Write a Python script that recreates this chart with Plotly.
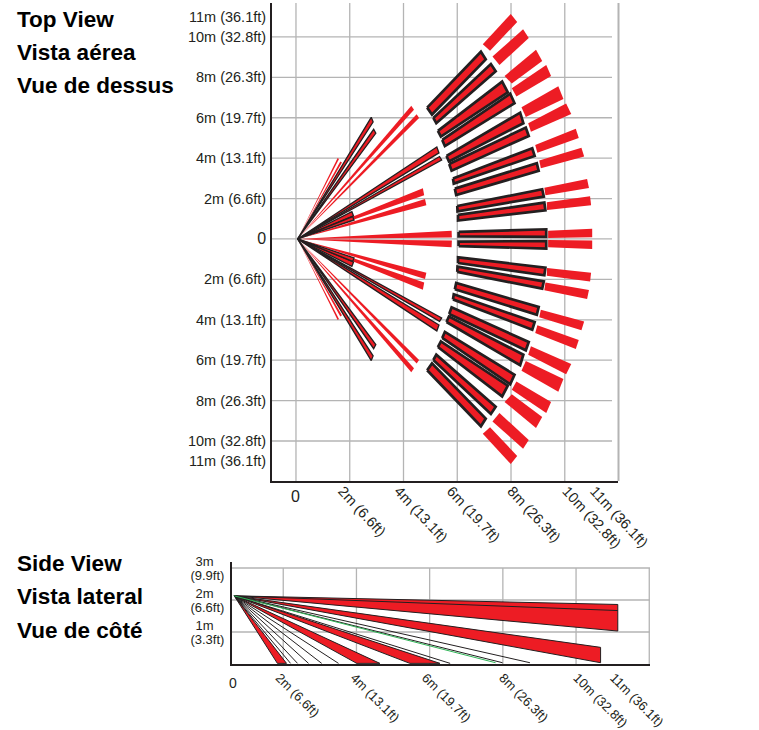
import plotly.graph_objects as go

W, H = 759, 730
RED, BLACK, GRID, GREEN = "#ed1c24", "#231f20", "#b4b4b4", "#2fb457"
FONT = "Liberation Sans, Arial, sans-serif"

# ---------- top view (metres, upper half; lower half is the mirror image) ----------
outer_x = [[6.95, 7.99, 8.23, 7.22], [7.31, 8.45, 8.66, 7.57], [7.76, 8.93, 9.16, 8.03],
           [8.03, 9.31, 9.49, 8.20], [8.39, 9.76, 9.95, 8.55], [8.64, 10.05, 10.24, 8.74],
           [8.90, 10.41, 10.52, 8.98], [9.05, 10.62, 10.72, 9.11], [9.24, 10.83, 10.90, 9.28],
           [9.33, 10.94, 10.98, 9.34], [9.38, 11.02, 11.02, 9.38]]
outer_y = [[9.64, 11.14, 10.74, 9.32], [9.03, 10.38, 9.95, 8.61], [8.07, 9.36, 8.81, 7.69],
           [7.46, 8.61, 8.07, 7.05], [6.52, 7.56, 6.93, 6.04], [5.73, 6.70, 6.19, 5.31],
           [4.65, 5.45, 5.00, 4.27], [3.88, 4.52, 4.08, 3.50], [2.54, 2.97, 2.52, 2.16],
           [1.82, 2.11, 1.67, 1.44], [0.41, 0.50, 0.08, 0.05]]
middle_x = [[4.88, 6.88, 7.06, 5.06], [5.11, 7.25, 7.43, 5.22], [5.28, 7.67, 7.88, 5.39],
            [5.44, 7.97, 8.13, 5.54], [5.60, 8.34, 8.46, 5.69], [5.70, 8.55, 8.66, 5.79],
            [5.84, 8.79, 8.88, 5.87], [5.91, 8.96, 9.03, 5.96], [6.00, 9.16, 9.22, 6.01],
            [6.03, 9.24, 9.28, 6.03], [6.05, 9.31, 9.31, 6.05]]
middle_y = [[6.50, 9.27, 8.89, 6.16], [5.99, 8.66, 8.30, 5.73], [5.35, 7.79, 7.26, 5.07],
            [4.90, 7.19, 6.72, 4.60], [4.11, 6.25, 5.73, 3.84], [3.71, 5.51, 5.10, 3.38],
            [2.99, 4.49, 4.11, 2.74], [2.49, 3.75, 3.37, 2.18], [1.63, 2.46, 2.10, 1.37],
            [1.19, 1.80, 1.42, 0.91], [0.35, 0.48, 0.10, 0.13]]
apex_x, apex_y = 0.06, 0.0
near_red_x = [[1.55, 1.60], [1.65, 1.71], [4.29, 4.39], [4.49, 4.58],
              [4.72, 4.77], [4.80, 4.85], [5.79, 5.80]]
near_red_y = [[4.01, 3.96], [3.84, 3.78], [6.60, 6.40], [6.17, 5.99],
              [2.51, 2.16], [1.98, 1.67], [0.41, 0.07]]
near_black_x = [[2.80, 2.87], [2.89, 2.97], [5.24, 5.32], [5.34, 5.42], [2.08, 2.14], [2.11, 2.16]]
near_black_y = [[6.02, 5.79], [5.43, 5.23], [4.55, 4.26], [4.08, 3.91], [1.35, 1.14], [1.11, 0.94]]

top_grid_x = [0, 2, 4, 6, 8, 10]
top_grid_y = [-10, -8, -6, -4, -2, 0, 2, 4, 6, 8, 10]
top_x_vals = [2.1, 4.2, 6.15, 8.4, 10.45, 11.48]
top_x_text = ["2m (6.6ft)", "4m (13.1ft)", "6m (19.7ft)", "8m (26.3ft)", "10m (32.8ft)", "11m (36.1ft)"]
top_y_vals = [-11, -10, -8, -6, -4, -2, 0, 2, 4, 6, 8, 10, 11]
top_y_text = ["11m (36.1ft)", "10m (32.8ft)", "8m (26.3ft)", "6m (19.7ft)", "4m (13.1ft)", "2m (6.6ft)",
              "<span style='font-size:16px'>0</span>",
              "2m (6.6ft)", "4m (13.1ft)", "6m (19.7ft)", "8m (26.3ft)", "10m (32.8ft)", "11m (36.1ft)"]

# ---------- side view ----------
side_apex_x, side_apex_y = 0.66, 2.13
side_red_x = [[11.14, 11.14], [10.67, 10.67], [6.28, 5.46], [4.64, 4.01], [2.09, 1.84]]
side_red_y = [[1.86, 1.03], [0.52, 0.04], [0.02, 0.02], [0.02, 0.02], [0.02, 0.02]]
side_line_x = [11.14, 8.74, 7.99, 6.56, 3.51, 3.05, 2.69, 2.39, 2.20]
side_line_y = [1.67, 0.04, 0.04, 0.02, 0.02, 0.02, 0.02, 0.02, 0.02]
side_green_x, side_green_y = 7.80, 0.04
side_grid_x = [2, 4, 6, 8, 10, 12]
side_grid_y = [1, 2, 3]
side_x_vals = [2.11, 4.16, 6.11, 8.22, 10.25, 11.25]
side_y_vals = [0.78, 1.2, 1.78, 2.2, 2.78, 3.2]
side_y_text = ["(3.3ft)", "1m&nbsp;&nbsp;&nbsp;", "(6.6ft)", "2m&nbsp;&nbsp;&nbsp;", "(9.9ft)", "3m&nbsp;&nbsp;&nbsp;"]

top_titles = ["Top View", "Vista aérea", "Vue de dessus"]
top_title_px = [19.5, 52.5, 85.5]
side_titles = ["Side View", "Vista lateral", "Vue de côté"]
side_title_px = [563.5, 596.5, 630]

fig = go.Figure()


def poly(xs, ys, fill, line=None, width=0, xa="x", ya="y"):
    fig.add_trace(go.Scatter(
        x=list(xs) + [xs[0]], y=list(ys) + [ys[0]], mode="lines", fill="toself", fillcolor=fill,
        line=dict(color=line or fill, width=width), hoverinfo="skip", showlegend=False,
        xaxis=xa, yaxis=ya, cliponaxis=False))


for sign in (1, -1):
    for tx, ty in zip(near_red_x, near_red_y):
        poly([apex_x] + tx, [apex_y] + [sign * v for v in ty], RED)
    for tx, ty in zip(near_black_x, near_black_y):
        poly([apex_x] + tx, [apex_y] + [sign * v for v in ty], RED, BLACK, 1.3)
    for xs, ys in zip(outer_x, outer_y):
        poly(xs, [sign * v for v in ys], RED)
    for xs, ys in zip(middle_x, middle_y):
        poly(xs, [sign * v for v in ys], RED, BLACK, 2.7)

for tx, ty in zip(side_red_x, side_red_y):
    poly([side_apex_x] + tx, [side_apex_y] + ty, RED, BLACK, 1, "x2", "y2")
for lx, ly in zip(side_line_x, side_line_y):
    fig.add_trace(go.Scatter(x=[side_apex_x, lx], y=[side_apex_y, ly], mode="lines",
                             line=dict(color=BLACK, width=1), hoverinfo="skip", showlegend=False,
                             xaxis="x2", yaxis="y2"))
fig.add_trace(go.Scatter(x=[side_apex_x, side_green_x], y=[side_apex_y, side_green_y], mode="lines",
                         line=dict(color=GREEN, width=1), hoverinfo="skip", showlegend=False,
                         xaxis="x2", yaxis="y2"))

shapes = []
for g in top_grid_x:
    shapes.append(dict(type="line", xref="x", yref="paper", x0=g, x1=g, y0=1 - 481 / H, y1=1 - 3 / H,
                       line=dict(color=GRID, width=1.3), layer="below"))
shapes.append(dict(type="line", xref="paper", yref="paper", x0=618.5 / W, x1=618.5 / W, y0=1 - 481 / H, y1=1 - 3 / H,
                   line=dict(color=GRID, width=2), layer="below"))
for g in top_grid_y:
    shapes.append(dict(type="line", xref="paper", yref="y", x0=272 / W, x1=612 / W, y0=g, y1=g,
                       line=dict(color=GRID, width=1.3), layer="below"))
for g in side_grid_x:
    shapes.append(dict(type="line", xref="x2", yref="y2", x0=g, x1=g, y0=0, y1=3,
                       line=dict(color=GRID, width=1.3), layer="below"))
for g in side_grid_y:
    shapes.append(dict(type="line", xref="paper", yref="y2", x0=232 / W, x1=650 / W, y0=g, y1=g,
                       line=dict(color=GRID, width=1.3), layer="below"))

annotations = []
for txt, py in list(zip(top_titles, top_title_px)) + list(zip(side_titles, side_title_px)):
    annotations.append(dict(text=f"<b>{txt}</b>", x=15 / W, y=1 - py / H, xref="paper", yref="paper",
                            xanchor="left", yanchor="middle", showarrow=False,
                            font=dict(family=FONT, size=22.5, color="#000000")))
annotations.append(dict(text="0", x=0, y=1 - 496 / H, xref="x", yref="paper", xanchor="center", yanchor="middle",
                        showarrow=False, font=dict(family=FONT, size=16, color=BLACK)))
annotations.append(dict(text="0", x=233 / W, y=1 - 683 / H, xref="paper", yref="paper", xanchor="center",
                        yanchor="middle", showarrow=False, font=dict(family=FONT, size=14, color=BLACK)))

tick_font = dict(family=FONT, size=14.5, color=BLACK)
side_font = dict(family=FONT, size=13, color=BLACK)

fig.update_layout(
    width=W, height=H, margin=dict(l=0, r=0, t=0, b=0, autoexpand=False), paper_bgcolor="white", plot_bgcolor="white",
    showlegend=False, shapes=shapes, annotations=annotations,
    xaxis=dict(domain=[272 / W, 618 / W], range=[-0.892, 11.98], anchor="y", showgrid=False, zeroline=False,
               automargin=False, showline=True, linecolor=BLACK, linewidth=2, tickmode="array", tickvals=top_x_vals,
               ticktext=top_x_text, tickangle=47, ticklen=0, tickfont=tick_font, ticklabelshift=-10,
               ticklabelstandoff=-6),
    yaxis=dict(domain=[1 - 481 / H, 1 - 3 / H], range=[-11.98, 11.68], anchor="x", showgrid=False, zeroline=False,
               automargin=False, showline=True, linecolor=BLACK, linewidth=2, tickmode="array", tickvals=top_y_vals,
               ticktext=top_y_text, ticklen=0, tickfont=tick_font, ticklabelstandoff=1),
    xaxis2=dict(domain=[232 / W, 650 / W], range=[0.60, 12.02], anchor="y2", showgrid=False, zeroline=False,
                automargin=False, showline=True, linecolor=BLACK, linewidth=2, tickmode="array", tickvals=side_x_vals,
                ticktext=top_x_text, tickangle=45, ticklen=0, tickfont=side_font, ticklabelshift=-8,
                ticklabelstandoff=-1),
    yaxis2=dict(domain=[1 - 664 / H, 1 - 561.5 / H], range=[0, 3.203], anchor="x2", showgrid=False, zeroline=False,
                automargin=False, showline=True, linecolor=BLACK, linewidth=2, tickmode="array", tickvals=side_y_vals,
                ticktext=side_y_text, ticklen=0, tickfont=side_font, ticklabelstandoff=3),
)

fig.write_html("out.html", config={"displayModeBar": False},
               post_script="document.body.style.margin='0';document.body.style.overflow='hidden';")
